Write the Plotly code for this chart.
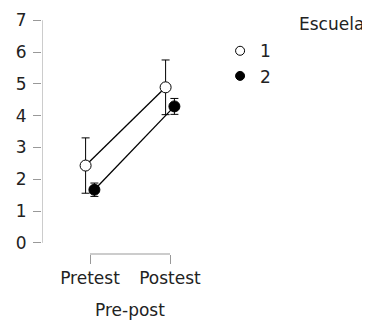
import plotly.graph_objects as go

# Data
conditions = ["Pretest", "Postest"]
cond_pos = [0, 1]
groups = ["1", "2"]
means = {"1": [2.43, 4.89], "2": [1.67, 4.29]}
errors = {"1": [0.87, 0.86], "2": [0.21, 0.25]}
y_ticks = [0, 1, 2, 3, 4, 5, 6, 7]

dodge = {"1": -0.055, "2": 0.055}
fills = {"1": "white", "2": "black"}

fig = go.Figure()
for g in groups:
    xs = [p + dodge[g] for p in cond_pos]
    fig.add_trace(go.Scatter(
        x=xs, y=means[g], mode="lines+markers", showlegend=False,
        line=dict(color="black", width=1.3),
        marker=dict(size=11, color=fills[g], line=dict(color="black", width=1)),
        error_y=dict(type="data", array=errors[g], color="black", thickness=1, width=4),
    ))
for g in groups:
    fig.add_trace(go.Scatter(
        x=[None], y=[None], mode="markers", name=g,
        marker=dict(size=9, color=fills[g], line=dict(color="black", width=1)),
    ))

axis_col = "#999999"
fig.add_shape(type="line", xref="x", yref="y", x0=-0.6, x1=-0.6,
              y0=min(y_ticks), y1=max(y_ticks), line=dict(color=axis_col, width=1))
fig.add_shape(type="line", xref="x", yref="paper", x0=cond_pos[0], x1=cond_pos[-1],
              y0=0, y1=0, line=dict(color=axis_col, width=1))

fig.add_annotation(text="Pre-post", x=0.5, xref="x", y=0, yref="paper", yanchor="top",
                   yshift=-44, showarrow=False, font=dict(size=17, color="#222222"))
fig.add_annotation(text="Escuela", xref="paper", yref="paper", x=1.018, y=1.0,
                   xanchor="right", yanchor="top", yshift=1, showarrow=False,
                   font=dict(size=17, color="#222222"))

fig.update_layout(
    width=362, height=312,
    margin=dict(l=34, r=10, t=2, b=66),
    paper_bgcolor="white", plot_bgcolor="white",
    font=dict(family="DejaVu Sans", size=17, color="#222222"),
    xaxis=dict(range=[-0.6, 3.375], tickvals=cond_pos, ticktext=conditions,
               showgrid=False, zeroline=False, showline=False,
               ticks="outside", ticklen=9, tickcolor=axis_col),
    yaxis=dict(range=[-0.351, 7.227], tickvals=y_ticks,
               showgrid=False, zeroline=False, showline=False,
               ticks="outside", ticklen=8, tickcolor=axis_col, ticklabelstandoff=3,
               ticklabeloverflow="allow"),
    legend=dict(x=0.56, y=0.916, xanchor="left", yanchor="top",
                font=dict(size=17), itemsizing="trace", tracegroupgap=0,
                bgcolor="rgba(0,0,0,0)"),
)
fig.write_html("out.html")
